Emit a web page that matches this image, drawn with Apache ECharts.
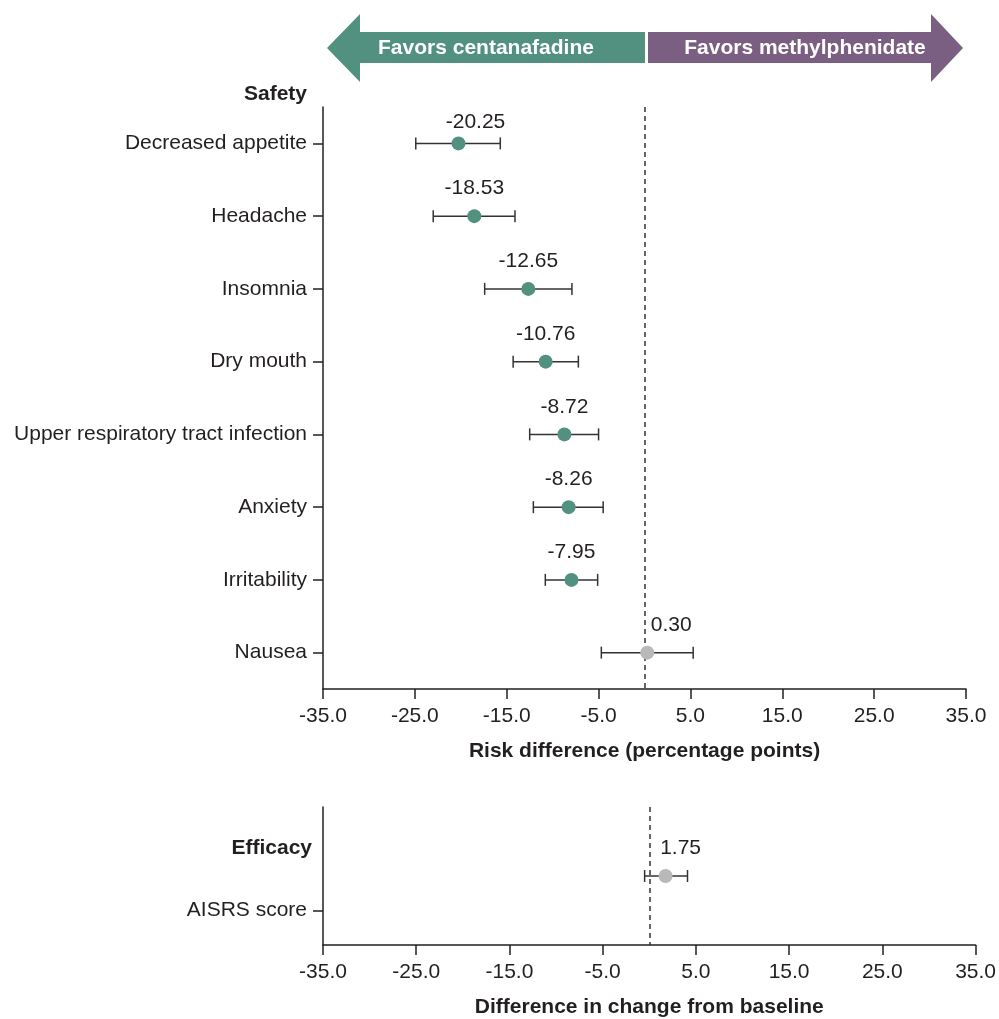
<!DOCTYPE html>
<html><head><meta charset="utf-8">
<script src="https://cdn.jsdelivr.net/npm/echarts@6/dist/echarts.min.js"></script>
<style>html,body{margin:0;padding:0;background:#fff}#c{width:999px;height:1019px}</style>
</head><body><div id="c"></div>
<script>
// ---- data ----
const safetyCategories = ['Decreased appetite','Headache','Insomnia','Dry mouth','Upper respiratory tract infection','Anxiety','Irritability','Nausea'];
const safetyEstimate = [-20.25,-18.53,-12.65,-10.76,-8.72,-8.26,-7.95,0.30];
const safetyLower = [-24.9,-23.0,-17.4,-14.3,-12.5,-12.1,-10.8,-4.7];
const safetyUpper = [-15.7,-14.1,-7.9,-7.2,-5.0,-4.5,-5.1,5.3];
const efficacyCategories = ['AISRS score'];
const efficacyEstimate = [1.75];
const efficacyLower = [-0.5];
const efficacyUpper = [4.1];
const xTickValues = [-35,-25,-15,-5,5,15,25,35];

// ---- style ----
const FONT = '"Liberation Sans", Arial, Helvetica, sans-serif';
const TXT = '#231f20';
const TEAL = '#52907f';
const GREY = '#b9b9b9';
const PURPLE = '#7b5f82';
const FS = 21;

const chart = echarts.init(document.getElementById('c'), null, {renderer: 'canvas'});

function errRender(params, api) {
  const lo = api.coord([api.value(0), api.value(2)]);
  const hi = api.coord([api.value(1), api.value(2)]);
  const h = 6;
  const st = {stroke: '#333', lineWidth: 1.5};
  return {type: 'group', children: [
    {type: 'line', shape: {x1: lo[0], y1: lo[1], x2: hi[0], y2: hi[1]}, style: st},
    {type: 'line', shape: {x1: lo[0], y1: lo[1] - h, x2: lo[0], y2: lo[1] + h}, style: st},
    {type: 'line', shape: {x1: hi[0], y1: hi[1] - h, x2: hi[0], y2: hi[1] + h}, style: st}
  ]};
}

const labelShift = {0: [17, 6], 7: [24, 0]};
const safetyRows = safetyCategories.map((c, i) => i);
const safetyPoints = safetyEstimate.map((v, i) => ({
  value: [v, safetyRows[i]],
  itemStyle: {color: safetyUpper[i] < 0 ? TEAL : GREY, opacity: 1},
  label: {offset: labelShift[i] || [0, 0]}
}));
const efficacyRow = 2, efficacyLabelRow = 3;
const efficacyPoints = efficacyEstimate.map((v, i) => ({
  value: [v, efficacyRow + i],
  itemStyle: {color: efficacyLower[i] > 0 ? TEAL : GREY, opacity: 1},
  label: {offset: [15, 0]}
}));

const xMin = xTickValues[0], xMax = xTickValues[xTickValues.length - 1];
const xStep = xTickValues[1] - xTickValues[0];

function xAxisCfg(gi, name) {
  return {
    type: 'value', gridIndex: gi, min: xMin, max: xMax, interval: xStep,
    axisLine: {show: true, onZero: false, lineStyle: {color: TXT, width: 1.5}},
    axisTick: {show: true, length: 10, lineStyle: {color: TXT, width: 1.5}},
    axisLabel: {margin: 17, fontSize: FS, color: TXT, fontFamily: FONT, formatter: v => v.toFixed(1)},
    splitLine: {show: false},
    name: name, nameLocation: 'middle', nameGap: 52,
    nameTextStyle: {fontSize: FS, fontWeight: 'bold', color: TXT, fontFamily: FONT}
  };
}

const markLineCfg = {
  silent: true, symbol: ['none', 'none'], label: {show: false}, z: 1,
  lineStyle: {type: [5, 4], color: '#333', width: 1.5},
  emphasis: {disabled: true},
  data: [{xAxis: 0}]
};

const valueLabel = {
  show: true, position: 'top', distance: 10, fontSize: FS, color: TXT, opacity: 1, fontFamily: FONT,
  formatter: p => p.value[0].toFixed(2)
};

chart.setOption({
  animation: false,
  backgroundColor: '#fff',
  grid: [
    {left: 323, top: 107, width: 643, height: 582},
    {left: 323, top: 807, width: 653, height: 141}
  ],
  xAxis: [
    xAxisCfg(0, 'Risk difference (percentage points)'),
    xAxisCfg(1, 'Difference in change from baseline')
  ],
  yAxis: [
    {
      type: 'value', gridIndex: 0, min: -0.5, max: safetyCategories.length - 0.5, inverse: true,
      axisLine: {show: true, onZero: false, lineStyle: {color: TXT, width: 1.5}},
      axisTick: {show: true, length: 10, customValues: safetyRows, lineStyle: {color: TXT, width: 1.5}},
      axisLabel: {margin: 16, fontSize: FS, color: TXT, fontFamily: FONT, customValues: safetyRows,
        formatter: v => safetyCategories[Math.round(v)]},
      splitLine: {show: false}
    },
    {
      type: 'value', gridIndex: 1, min: 0, max: 4, inverse: true,
      axisLine: {show: true, onZero: false, lineStyle: {color: TXT, width: 1.5}},
      axisTick: {show: true, length: 10, customValues: [efficacyLabelRow], lineStyle: {color: TXT, width: 1.5}},
      axisLabel: {margin: 16, fontSize: FS, color: TXT, fontFamily: FONT, customValues: [efficacyLabelRow],
        formatter: () => efficacyCategories[0]},
      splitLine: {show: false}
    }
  ],
  series: [
    {
      type: 'custom', xAxisIndex: 0, yAxisIndex: 0, z: 2,
      renderItem: errRender, encode: {x: [0, 1], y: 2},
      data: safetyCategories.map((c, i) => [safetyLower[i], safetyUpper[i], safetyRows[i]]),
      markLine: markLineCfg
    },
    {
      type: 'scatter', xAxisIndex: 0, yAxisIndex: 0, z: 5,
      symbolSize: 14, itemStyle: {opacity: 1}, data: safetyPoints, label: valueLabel
    },
    {
      type: 'custom', xAxisIndex: 1, yAxisIndex: 1, z: 2,
      renderItem: errRender, encode: {x: [0, 1], y: 2},
      data: efficacyCategories.map((c, i) => [efficacyLower[i], efficacyUpper[i], efficacyRow + i]),
      markLine: markLineCfg
    },
    {
      type: 'scatter', xAxisIndex: 1, yAxisIndex: 1, z: 5,
      symbolSize: 14, itemStyle: {opacity: 1}, data: efficacyPoints, label: valueLabel
    }
  ],
  graphic: [
    {type: 'polygon', shape: {points: [[327,48],[360,14],[360,32],[645,32],[645,63],[360,63],[360,82]]}, style: {fill: TEAL}},
    {type: 'polygon', shape: {points: [[648,32],[931,32],[931,14],[963,48],[931,82],[931,63],[648,63]]}, style: {fill: PURPLE}},
    {type: 'text', x: 486, y: 48, style: {text: 'Favors centanafadine', fill: '#fff', font: 'bold 21px ' + FONT, textAlign: 'center', textVerticalAlign: 'middle'}},
    {type: 'text', x: 805, y: 48, style: {text: 'Favors methylphenidate', fill: '#fff', font: 'bold 21px ' + FONT, textAlign: 'center', textVerticalAlign: 'middle'}},
    {type: 'text', x: 307, y: 94, style: {text: 'Safety', fill: TXT, font: 'bold 21px ' + FONT, textAlign: 'right', textVerticalAlign: 'middle'}},
    {type: 'text', x: 312, y: 848, style: {text: 'Efficacy', fill: TXT, font: 'bold 21px ' + FONT, textAlign: 'right', textVerticalAlign: 'middle'}}
  ]
});
</script>
</body></html>
